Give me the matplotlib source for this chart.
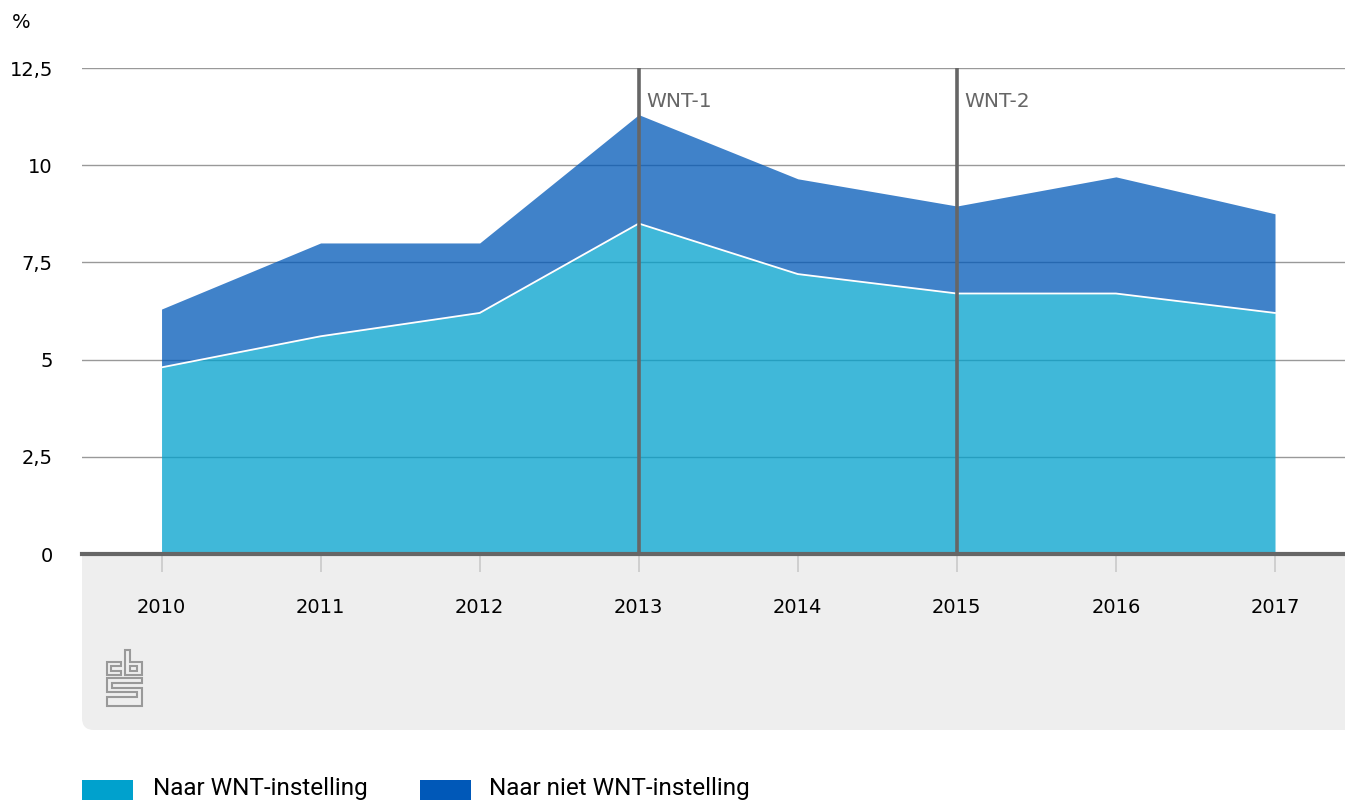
import matplotlib.pyplot as plt
import matplotlib.transforms as mtransforms
from matplotlib.patches import FancyBboxPatch, Rectangle, Polygon

plt.rcParams['font.family'] = 'DejaVu Sans'

years = [2010, 2011, 2012, 2013, 2014, 2015, 2016, 2017]
naar_wnt = [4.8, 5.6, 6.2, 8.5, 7.2, 6.7, 6.7, 6.2]
naar_niet_wnt = [1.5, 2.4, 1.8, 2.8, 2.45, 2.25, 3.0, 2.55]
yticks = [0, 2.5, 5, 7.5, 10, 12.5]
ytick_labels = ['0', '2,5', '5', '7,5', '10', '12,5']
wnt_years = [2013, 2015]
wnt_labels = ['WNT-1', 'WNT-2']
legend_labels = ['Naar WNT-instelling', 'Naar niet WNT-instelling']

c_light = '#00a1cd'
c_dark = '#0058b8'
W, H = 1345, 800

fig = plt.figure(figsize=(W / 100, H / 100), dpi=100)
# pixel coords, y pointing down
px = mtransforms.Affine2D().scale(1 / W, -1 / H).translate(0, 1) + fig.transFigure

# grey panel under the x axis
panel = FancyBboxPatch((82, 520), 1300, 210, boxstyle='round,pad=0,rounding_size=12',
                       transform=px, facecolor='#eeeeee', edgecolor='none', zorder=-1)
fig.add_artist(panel)

ax = fig.add_axes([82 / W, 246 / H, 1263 / W, 486 / H])
ax.set_facecolor('white')
top = [a + b for a, b in zip(naar_wnt, naar_niet_wnt)]
ax.fill_between(years, 0, naar_wnt, color=c_light, alpha=0.75, linewidth=0, zorder=2)
ax.fill_between(years, naar_wnt, top, color=c_dark, alpha=0.75, linewidth=0, zorder=2)
ax.plot(years, naar_wnt, color='white', lw=1.3, zorder=3)

for yr, lab in zip(wnt_years, wnt_labels):
    ax.axvline(yr, color='#666666', lw=2.6, zorder=4)
    ax.text(yr + 0.05, 11.65, lab, color='#666666', fontsize=14.5, va='center', ha='left')

ax.set_xlim(2009.5, 2017.44)
ax.set_ylim(0, 12.5)
ax.set_yticks(yticks)
ax.set_yticklabels(ytick_labels)
ax.set_xticks(years)
ax.grid(axis='y', color='#999999', lw=1.0)
ax.set_axisbelow(True)
for s in ['top', 'right', 'left']:
    ax.spines[s].set_visible(False)
ax.spines['bottom'].set_color('#666666')
ax.spines['bottom'].set_linewidth(3)
ax.spines['bottom'].set_zorder(5)
ax.tick_params(axis='y', length=0, pad=21, labelsize=14)
ax.tick_params(axis='x', length=13, width=1.3, color='#cccccc', pad=19, labelsize=14)

fig.text(12 / W, 1 - 22 / H, '%', fontsize=14, va='center', ha='left')

# cbs logo (rough outline)
logo = [
    [(121, 662), (107, 662), (107, 675), (121, 675), (121, 671), (111, 671), (111, 666), (121, 666)],
    [(125, 650), (130, 650), (130, 662), (142, 662), (142, 675), (125, 675)],
    [(130, 666), (137, 666), (137, 671), (130, 671)],
    [(142, 678), (107, 678), (107, 692), (137, 692), (137, 697), (107, 697), (107, 706),
     (142, 706), (142, 688), (112, 688), (112, 683), (142, 683)],
]
for pts in logo:
    fig.add_artist(Polygon(pts, closed=True, fill=False, edgecolor='#999999', lw=1.5, transform=px))

# legend
for x0, tx, col, lab in zip([82, 420], [153, 489], [c_light, c_dark], legend_labels):
    fig.add_artist(Rectangle((x0, 780), 51, 22, transform=px, facecolor=col, edgecolor='none'))
    fig.text(tx / W, 1 - 789 / H, lab, fontsize=17.5, va='center', ha='left',
             family=['Liberation Sans Narrow', 'Roboto', 'DejaVu Sans'])

fig.savefig('out.png', dpi=100)
